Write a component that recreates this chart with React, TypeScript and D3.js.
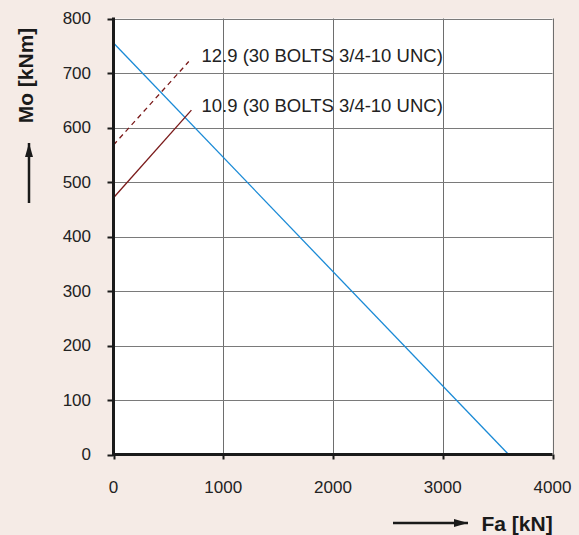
import React from "react";
import * as d3 from "d3";

const xTicks = [0, 1000, 2000, 3000, 4000];
const yTicks = [0, 100, 200, 300, 400, 500, 600, 700, 800];
const limitLine = [
  { fa: 0, mo: 755 },
  { fa: 3600, mo: 0 },
];
const bolt109 = [
  { fa: 0, mo: 471 },
  { fa: 710, mo: 632 },
];
const bolt129 = [
  { fa: 0, mo: 568 },
  { fa: 686, mo: 721 },
];
const labels = [
  { text: "12.9 (30 BOLTS 3/4-10 UNC)", fa: 800, mo: 720 },
  { text: "10.9 (30 BOLTS 3/4-10 UNC)", fa: 800, mo: 628 },
];

const W = 579;
const H = 535;
const FONT = "'Liberation Sans', Arial, Helvetica, sans-serif";

export default function App() {
  const x = d3.scaleLinear().domain([0, 4000]).range([113.5, 552.5]);
  const y = d3.scaleLinear().domain([0, 800]).range([454.5, 18.5]);
  const line = d3
    .line<{ fa: number; mo: number }>()
    .x((d) => x(d.fa))
    .y((d) => y(d.mo));

  return (
    <svg
      width={W}
      height={H}
      style={{ position: "absolute", left: 0, top: 0, display: "block" }}
    >
      <defs>
        <marker
          id="arr"
          viewBox="0 0 14 10"
          refX="14"
          refY="5"
          markerWidth="14"
          markerHeight="10"
          markerUnits="userSpaceOnUse"
          orient="auto"
        >
          <path d="M0,1 L14,5 L0,9 Z" fill="#1a1a1a" />
        </marker>
      </defs>
      <rect x={0} y={0} width={W} height={H} fill="#f5ebe6" />
      <rect
        x={x(0)}
        y={y(800)}
        width={x(4000) - x(0)}
        height={y(0) - y(800)}
        fill="#ffffff"
      />
      {/* grid */}
      {xTicks.map((t) => (
        <line
          key={"gx" + t}
          x1={Math.round(x(t)) + 0.5}
          x2={Math.round(x(t)) + 0.5}
          y1={y(800)}
          y2={y(0)}
          stroke="#6e6e6e"
          strokeWidth={1}
        />
      ))}
      {yTicks.map((t) => (
        <line
          key={"gy" + t}
          x1={x(0)}
          x2={x(4000)}
          y1={Math.round(y(t)) + 0.5}
          y2={Math.round(y(t)) + 0.5}
          stroke="#7a7a7a"
          strokeWidth={1}
        />
      ))}
      {/* ticks */}
      {yTicks.map((t) => (
        <line
          key={"ty" + t}
          x1={x(0) - 6}
          x2={x(0)}
          y1={Math.round(y(t)) + 0.5}
          y2={Math.round(y(t)) + 0.5}
          stroke="#1a1a1a"
          strokeWidth={2}
        />
      ))}
      {xTicks.map((t) => (
        <line
          key={"tx" + t}
          x1={Math.round(x(t)) + 0.5}
          x2={Math.round(x(t)) + 0.5}
          y1={y(0)}
          y2={y(0) + 5}
          stroke="#1a1a1a"
          strokeWidth={2}
        />
      ))}
      {/* data lines */}
      <path d={line(limitLine) || ""} stroke="#1a8ad6" strokeWidth={1.3} fill="none" />
      <path d={line(bolt109) || ""} stroke="#7a1a1a" strokeWidth={1.3} fill="none" />
      <path
        d={line(bolt129) || ""}
        stroke="#7a1a1a"
        strokeWidth={1.3}
        fill="none"
        strokeDasharray="5,4"
      />
      {/* axes */}
      <line x1={x(0)} x2={x(0)} y1={y(800) - 1} y2={y(0) + 1.5} stroke="#1a1a1a" strokeWidth={3} />
      <line x1={x(0) - 1.5} x2={x(4000)} y1={y(0)} y2={y(0)} stroke="#1a1a1a" strokeWidth={3} />
      {/* tick labels */}
      {yTicks.map((t) => (
        <text
          key={"ly" + t}
          x={91}
          y={y(t)}
          dy="0.35em"
          textAnchor="end"
          fontFamily={FONT}
          fontSize={17}
          fill="#222"
        >
          {t}
        </text>
      ))}
      {xTicks.map((t) => (
        <text
          key={"lx" + t}
          x={x(t)}
          y={493}
          textAnchor="middle"
          fontFamily={FONT}
          fontSize={17}
          fill="#222"
        >
          {t}
        </text>
      ))}
      {/* annotations */}
      {labels.map((l) => (
        <text
          key={l.text}
          x={201.5}
          y={y(l.mo)}
          fontFamily={FONT}
          fontSize={18.5}
          fill="#222"
        >
          {l.text}
        </text>
      ))}
      {/* axis titles */}
      <text
        transform="translate(33,75.5) rotate(-90)"
        textAnchor="middle"
        fontFamily={FONT}
        fontSize={21}
        fontWeight="bold"
        fill="#1a1a1a"
      >
        Mo [kNm]
      </text>
      <line x1={29} x2={29} y1={203} y2={143} stroke="#1a1a1a" strokeWidth={2.5} markerEnd="url(#arr)" />
      <text
        x={481.5}
        y={530.5}
        fontFamily={FONT}
        fontSize={21}
        fontWeight="bold"
        fill="#1a1a1a"
      >
        Fa [kN]
      </text>
      <line x1={393} x2={468} y1={523} y2={523} stroke="#1a1a1a" strokeWidth={2.5} markerEnd="url(#arr)" />
    </svg>
  );
}
